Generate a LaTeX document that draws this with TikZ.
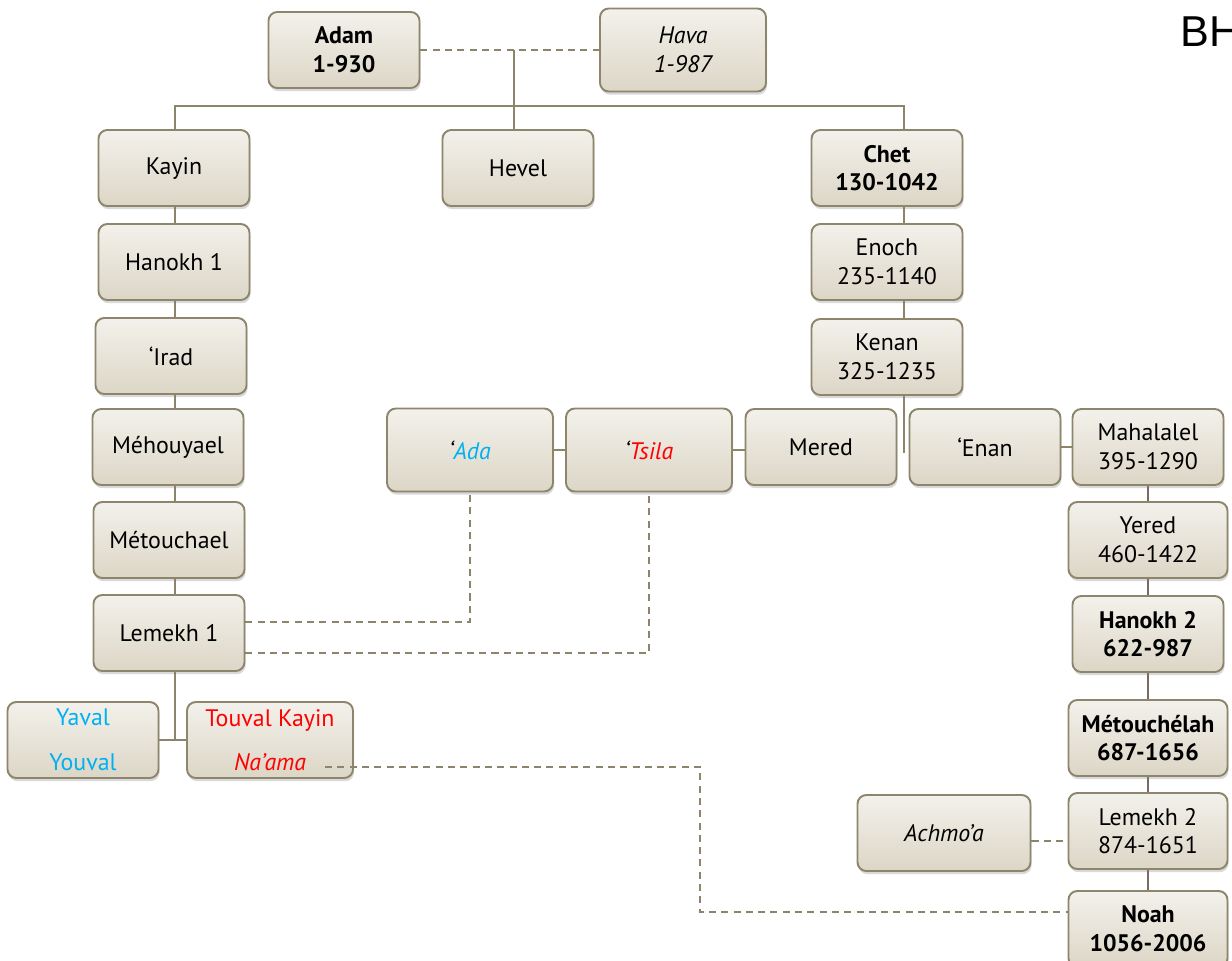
\documentclass[tikz,border=0pt]{standalone}
\usepackage{fontspec}
\setmainfont{PT Sans}
\newfontfamily\bhfont{Liberation Sans}
\usetikzlibrary{positioning,shadows,backgrounds,calc}
\definecolor{hautfond}{HTML}{F3F1EB}
\definecolor{basfond}{HTML}{DCD6C6}
\definecolor{cadre}{HTML}{8E866C}
\definecolor{trait}{HTML}{8C846B}
\definecolor{traitb}{HTML}{7A6A62}
\definecolor{bleu}{HTML}{00B0F0}
\definecolor{rouge}{HTML}{FF0000}
\newcommand\txt{\fontsize{13.6}{16.3}\selectfont}

\begin{document}
\begin{tikzpicture}[
  font=\txt,
  pers/.style={draw=cadre, line width=1.1pt, rounded corners=5pt, top color=hautfond, bottom color=basfond,
               minimum width=3.02cm, minimum height=1.52cm, align=center, inner sep=2pt,
               drop shadow={opacity=0.3, shadow xshift=0.6pt, shadow yshift=-1.8pt}},
  large/.style={minimum width=3.32cm, minimum height=1.66cm},
  wide/.style={minimum width=3.18cm},
  gras/.style={font=\txt\bfseries},
  ital/.style={font=\txt\itshape},
  lien/.style={draw=trait, line width=1.1pt},
  lienb/.style={draw=traitb, line width=1.1pt},
  tiret/.style={draw=trait, line width=1.1pt, dash pattern=on 4pt off 3pt}
]
\useasboundingbox (0,0) rectangle (24.64,-19.22);

% ---------- Adam et Hava ----------
\node[pers, gras] (adam) at (6.88,-1.00) {Adam\\1-930};
\node[pers, large, ital] (hava) at (13.66,-1.00) {Hava\\1-987};
\node[font=\bhfont\fontsize{24.6}{28}\selectfont, anchor=base west, inner sep=0pt] (bh) at (23.60,-0.92) {BH};

% ---------- Enfants ----------
\node[pers] (kayin) at (3.48,-3.36) {Kayin};
\node[pers] (hevel) at (10.36,-3.36) {Hevel};
\node[pers, gras] (chet) at (17.74,-3.36) {Chet\\130-1042};

% ---------- Lignée de Kayin ----------
\node[pers] (hanokhA) at (3.48,-5.24) {Hanokh 1};
\node[pers] (irad) at (3.42,-7.12) {‘Irad};
\node[pers] (mehouyael) at (3.36,-8.94) {Méhouyael};
\node[pers] (metouchael) at (3.38,-10.80) {Métouchael};
\node[pers] (lemekhA) at (3.38,-12.66) {Lemekh 1};
\node[pers, text=bleu] (yaval) at (1.66,-14.80) {Yaval\\[0.32cm]Youval};
\node[pers, large, minimum height=1.52cm, text=rouge] (touval) at (5.40,-14.80) {Touval Kayin\\[0.32cm]\textit{Na’ama}};
\node[pers, large, ital] (ada) at (9.40,-9.00) {‘\textcolor{bleu}{Ada}};
\node[pers, large, ital] (tsila) at (12.98,-9.00) {‘\textcolor{rouge}{Tsila}};

% ---------- Lignée de Chet ----------
\node[pers] (enoch) at (17.74,-5.24) {Enoch\\235-1140};
\node[pers] (kenan) at (17.74,-7.14) {Kenan\\325-1235};
\node[pers] (mered) at (16.42,-8.94) {Mered};
\node[pers] (enan) at (19.70,-8.94) {‘Enan};
\node[pers] (mahalalel) at (22.96,-8.94) {Mahalalel\\395-1290};
\node[pers, wide] (yered) at (22.96,-10.80) {Yered\\460-1422};
\node[pers, gras] (hanokhB) at (22.96,-12.68) {Hanokh 2\\622-987};
\node[pers, wide, gras] (metouchelah) at (22.96,-14.76) {Métouchélah\\687-1656};
\node[pers, wide] (lemekhB) at (22.96,-16.62) {Lemekh 2\\874-1651};
\node[pers, ital, minimum width=3.46cm] (achmoa) at (18.88,-16.66) {Achmo’a};
\node[pers, wide, gras] (noah) at (22.96,-18.58) {Noah\\1056-2006};

% ---------- Liens ----------
\coordinate (colA) at (3.50,-2.12);
\coordinate (colB) at (18.08,-2.12);
\begin{scope}[on background layer]
  \draw[tiret] (adam.east) -- (hava.west);
  \draw[lien] ([xshift=-0.08cm]hevel.north) -- ([xshift=-0.08cm]hevel.north |- adam.east);
  \draw[lien] (colA |- kayin.north) -- (colA) -- (colB) -- (colB |- chet.north);
  \foreach \a/\b in {kayin/hanokhA, hanokhA/irad, irad/mehouyael, mehouyael/metouchael, metouchael/lemekhA}
    \draw[lien] (colA |- \a.south) -- (colA |- \b.north);
  \draw[lien] (colA |- lemekhA.south) -- (colA |- yaval.east);
  \draw[lien] (yaval.east) -- (touval.west);
  \foreach \a/\b in {chet/enoch, enoch/kenan}
    \draw[lien] (colB |- \a.south) -- (colB |- \b.north);
  \draw[lien] (colB |- kenan.south) -- ($(colB |- mered.east)+(0,-0.12)$);
  \draw[lien] (ada.east) -- (tsila.west);
  \draw[lien] (tsila.east) -- (tsila.east -| mered.west);
  \draw[lien] (enan.east) -- (mahalalel.west);
  \foreach \a/\b in {mahalalel/yered, yered/hanokhB, hanokhB/metouchelah, metouchelah/lemekhB, lemekhB/noah}
    \draw[lienb] (\a) -- (\b);
  % mariages
  \draw[tiret] ([yshift=0.22cm]lemekhA.east) -| (ada.south);
  \draw[tiret] ([yshift=-0.40cm]lemekhA.east) -| (tsila.south);
  \draw[tiret] ([yshift=-0.16cm]achmoa.east) -- ([yshift=-0.16cm]achmoa.east -| lemekhB.west);
\end{scope}
\coordinate (naama) at ($(touval.center)+(1.10,-0.54)$);
\coordinate (coude) at (14.00,-18.24);
\draw[tiret] (naama) -| (coude) -- (coude -| noah.west);

\end{tikzpicture}
\end{document}
